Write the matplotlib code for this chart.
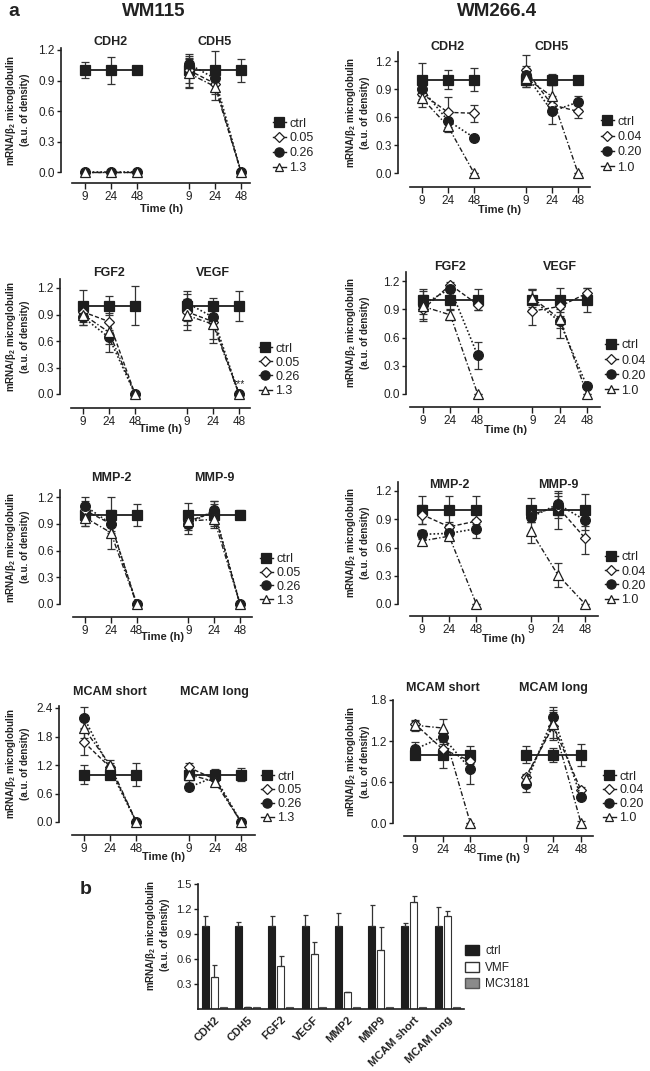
import numpy as np
import matplotlib
matplotlib.use("Agg")
import matplotlib.pyplot as plt
from matplotlib.lines import Line2D
from matplotlib.patches import Patch

plt.rcParams['font.family'] = ['Liberation Sans', 'DejaVu Sans']
plt.rcParams['mathtext.fontset'] = 'custom'
plt.rcParams['mathtext.rm'] = 'Liberation Sans'
plt.rcParams['mathtext.bf'] = 'Liberation Sans:bold'
plt.rcParams['mathtext.default'] = 'regular'

# ---------------- data ----------------
times = ["9", "24", "48"]
series_wm115 = ["ctrl", "0.05", "0.26", "1.3"]
series_wm266 = ["ctrl", "0.04", "0.20", "1.0"]
gene_pairs = [("CDH2", "CDH5"), ("FGF2", "VEGF"), ("MMP-2", "MMP-9"), ("MCAM short", "MCAM long")]

# rows: ctrl, low, mid, high dose ; columns: 9, 24, 48 h
wm115_cdh2 = [[1.00, 1.00, 1.00], [0.00, 0.00, 0.00], [0.00, 0.00, 0.00], [0.00, 0.00, 0.00]]
wm115_cdh2_sd = [[0.08, 0.13, 0.01], [0, 0, 0], [0, 0, 0], [0, 0, 0]]
wm115_cdh5 = [[1.00, 1.00, 1.00], [1.00, 0.87, 0.00], [1.06, 0.92, 0.00], [0.97, 0.84, 0.00]]
wm115_cdh5_sd = [[0.16, 0.19, 0.11], [0.12, 0.10, 0], [0.08, 0.05, 0], [0.14, 0.13, 0]]
wm115_fgf2 = [[1.00, 1.00, 1.00], [0.93, 0.82, 0.00], [0.87, 0.64, 0.00], [0.90, 0.70, 0.00]]
wm115_fgf2_sd = [[0.18, 0.11, 0.22], [0.08, 0.10, 0], [0.09, 0.16, 0], [0.12, 0.13, 0]]
wm115_vegf = [[1.00, 1.00, 1.00], [0.93, 0.82, 0.00], [1.03, 0.87, 0.00], [0.89, 0.79, 0.00]]
wm115_vegf_sd = [[0.17, 0.09, 0.17], [0.15, 0.20, 0], [0.10, 0.10, 0], [0.17, 0.21, 0]]
wm115_mmp2 = [[1.00, 1.00, 1.00], [1.05, 0.90, 0.00], [1.10, 0.90, 0.00], [0.97, 0.80, 0.00]]
wm115_mmp2_sd = [[0.12, 0.20, 0.12], [0.10, 0.15, 0], [0.10, 0.08, 0], [0.10, 0.18, 0]]
wm115_mmp9 = [[1.00, 1.00, 1.00], [0.93, 1.03, 0.00], [0.90, 1.05, 0.00], [0.93, 0.95, 0.00]]
wm115_mmp9_sd = [[0.13, 0.12, 0.05], [0.08, 0.12, 0], [0.12, 0.10, 0], [0.10, 0.10, 0]]
wm115_mcam_s = [[1.00, 1.00, 1.00], [1.68, 1.15, 0.00], [2.20, 1.10, 0.00], [1.97, 1.20, 0.00]]
wm115_mcam_s_sd = [[0.20, 0.07, 0.25], [0.27, 0.10, 0], [0.22, 0.10, 0], [0.20, 0.10, 0]]
wm115_mcam_l = [[1.00, 1.00, 1.00], [1.15, 0.90, 0.00], [0.73, 0.95, 0.00], [1.00, 0.85, 0.00]]
wm115_mcam_l_sd = [[0.18, 0.12, 0.13], [0.10, 0.10, 0], [0.05, 0.08, 0], [0.12, 0.08, 0]]

wm266_cdh2 = [[1.00, 1.00, 1.00], [0.85, 0.65, 0.64], [0.90, 0.56, 0.38], [0.80, 0.50, 0.00]]
wm266_cdh2_sd = [[0.18, 0.10, 0.12], [0.06, 0.16, 0.09], [0.05, 0.10, 0.02], [0.09, 0.06, 0]]
wm266_cdh5 = [[1.00, 1.00, 1.00], [1.10, 0.73, 0.66], [1.05, 0.66, 0.76], [1.02, 0.82, 0.00]]
wm266_cdh5_sd = [[0.08, 0.06, 0.01], [0.16, 0.10, 0.07], [0.10, 0.13, 0.07], [0.10, 0.12, 0]]
wm266_fgf2 = [[1.00, 1.00, 1.00], [0.90, 1.16, 0.95], [0.95, 1.12, 0.41], [0.93, 0.84, 0.00]]
wm266_fgf2_sd = [[0.12, 0.10, 0.11], [0.10, 0.03, 0.06], [0.10, 0.04, 0.14], [0.16, 0.05, 0]]
wm266_vegf = [[1.00, 1.00, 1.00], [0.88, 0.93, 1.07], [1.00, 0.77, 0.08], [1.02, 0.80, 0.00]]
wm266_vegf_sd = [[0.12, 0.13, 0.13], [0.15, 0.10, 0.06], [0.10, 0.18, 0.02], [0.10, 0.10, 0]]
wm266_mmp2 = [[1.00, 1.00, 1.00], [0.95, 0.82, 0.88], [0.74, 0.75, 0.80], [0.67, 0.72, 0.00]]
wm266_mmp2_sd = [[0.15, 0.15, 0.15], [0.10, 0.05, 0.10], [0.05, 0.05, 0.10], [0.03, 0.04, 0]]
wm266_mmp9 = [[1.00, 1.00, 1.00], [0.95, 1.03, 0.70], [0.92, 1.06, 0.89], [0.78, 0.31, 0.00]]
wm266_mmp9_sd = [[0.13, 0.20, 0.17], [0.08, 0.12, 0.17], [0.05, 0.12, 0.10], [0.13, 0.13, 0]]
wm266_mcam_s = [[1.00, 1.00, 1.00], [1.45, 1.08, 0.91], [1.08, 1.26, 0.79], [1.43, 1.39, 0.00]]
wm266_mcam_s_sd = [[0.07, 0.20, 0.12], [0.05, 0.10, 0.05], [0.10, 0.10, 0.22], [0.08, 0.13, 0]]
wm266_mcam_l = [[1.00, 1.00, 1.00], [0.67, 1.42, 0.48], [0.57, 1.55, 0.38], [0.65, 1.45, 0.00]]
wm266_mcam_l_sd = [[0.12, 0.10, 0.16], [0.05, 0.20, 0.05], [0.12, 0.15, 0.03], [0.05, 0.20, 0.03]]

# panel b
bar_genes = ["CDH2", "CDH5", "FGF2", "VEGF", "MMP2", "MMP9", "MCAM short", "MCAM long"]
bar_series = ["ctrl", "VMF", "MC3181"]
bar_ctrl = [1.00, 1.00, 1.00, 1.00, 1.00, 1.00, 1.00, 1.00]
bar_ctrl_sd = [0.12, 0.05, 0.12, 0.13, 0.15, 0.25, 0.03, 0.22]
bar_vmf = [0.39, 0.02, 0.52, 0.66, 0.21, 0.71, 1.29, 1.12]
bar_vmf_sd = [0.14, 0.00, 0.12, 0.14, 0.00, 0.27, 0.07, 0.06]
bar_mc = [0.02, 0.02, 0.02, 0.02, 0.02, 0.02, 0.02, 0.02]

wm115_data = [(wm115_cdh2, wm115_cdh2_sd, wm115_cdh5, wm115_cdh5_sd),
              (wm115_fgf2, wm115_fgf2_sd, wm115_vegf, wm115_vegf_sd),
              (wm115_mmp2, wm115_mmp2_sd, wm115_mmp9, wm115_mmp9_sd),
              (wm115_mcam_s, wm115_mcam_s_sd, wm115_mcam_l, wm115_mcam_l_sd)]
wm266_data = [(wm266_cdh2, wm266_cdh2_sd, wm266_cdh5, wm266_cdh5_sd),
              (wm266_fgf2, wm266_fgf2_sd, wm266_vegf, wm266_vegf_sd),
              (wm266_mmp2, wm266_mmp2_sd, wm266_mmp9, wm266_mmp9_sd),
              (wm266_mcam_s, wm266_mcam_s_sd, wm266_mcam_l, wm266_mcam_l_sd)]

# ---------------- style ----------------
W, H = 650, 1071
fig = plt.figure(figsize=(W / 100, H / 100), dpi=100)
fig.patch.set_facecolor("white")
INK = "#1e1e1e"
TXT = "#222222"

styles = [
    dict(marker="s", ms=7, mfc=INK, mec=INK, ls="-", lw=1.3, dashes=None),
    dict(marker="D", ms=5, mfc="white", mec=INK, ls="--", lw=1.0, dashes=(3, 1.6)),
    dict(marker="o", ms=7, mfc=INK, mec=INK, ls=":", lw=1.2, dashes=(1, 1.3)),
    dict(marker="^", ms=6.5, mfc="white", mec=INK, ls="-.", lw=1.0, dashes=(3.5, 1.5, 1, 1.5)),
]
draw_order = [3, 1, 2, 0]
ylab = "mRNA/β$_2$ microglobulin\n(a.u. of density)"


def fig_axes(left, right, top, bottom):
    return fig.add_axes([left / W, 1 - bottom / H, (right - left) / W, (bottom - top) / H])


left_geoms = [
    dict(spine=61, xs=72, xe=250, t0=85, t6=241, y0=172, ytk=50, ytkv=1.2, yax=183, ytop=1.22, step=0.3,
         title=42, xl=209, lgx=280, lgy=125, lgp=16),
    dict(spine=60, xs=71, xe=250, t0=83, t6=239, y0=394, ytk=288, ytkv=1.2, yax=408, ytop=1.3, step=0.3,
         title=273, xl=429, lgx=266, lgy=350, lgp=15.3),
    dict(spine=60, xs=73, xe=252, t0=85, t6=240, y0=604, ytk=497, ytkv=1.2, yax=617, ytop=1.28, step=0.3,
         title=478, xl=637, lgx=267, lgy=561, lgp=14.8),
    dict(spine=59, xs=72, xe=255, t0=84, t6=241, y0=822, ytk=708, ytkv=2.4, yax=835, ytop=2.45, step=0.6,
         title=692, xl=857, lgx=268, lgy=778, lgp=15),
]
right_geoms = [
    dict(spine=398, xs=410, xe=590, t0=422, t6=578, y0=173, ytk=61, ytkv=1.2, yax=187, ytop=1.3, step=0.3,
         title=47, xl=210, lgx=608, lgy=123, lgp=16.5),
    dict(spine=406, xs=410, xe=600, t0=423, t6=587, y0=394, ytk=281, ytkv=1.2, yax=407, ytop=1.3, step=0.3,
         title=267, xl=430, lgx=612, lgy=347, lgp=16.2),
    dict(spine=398, xs=410, xe=598, t0=422, t6=585, y0=604, ytk=491, ytkv=1.2, yax=616, ytop=1.3, step=0.3,
         title=485, xl=639, lgx=612, lgy=559, lgp=15.3),
    dict(spine=393, xs=404, xe=593, t0=415, t6=581, y0=823, ytk=700, ytkv=1.8, yax=836, ytop=1.8, step=0.6,
         title=688, xl=858, lgx=610, lgy=778, lgp=15),
]


def line_panel(g, genes, data, labels, ylab_x, stars=None):
    ux = (g["t6"] - g["t0"]) / 6.0
    uy = (g["y0"] - g["ytk"]) / g["ytkv"]
    top_px = g["y0"] - g["ytop"] * uy
    ax = fig_axes(g["spine"], g["xe"], top_px, g["yax"])
    ax.set_facecolor("none")
    x_lo = (g["spine"] - g["t0"]) / ux
    x_hi = (g["xe"] - g["t0"]) / ux
    ax.set_xlim(x_lo, x_hi)
    ax.set_ylim(-(g["yax"] - g["y0"]) / uy, g["ytop"])
    means_a, sd_a, means_b, sd_b = data
    for offset, means, sds in ((0, means_a, sd_a), (4, means_b, sd_b)):
        xs = np.arange(3) + offset
        for k in draw_order:
            st = styles[k]
            ax.errorbar(xs, means[k], yerr=sds[k], fmt="none", ecolor="#333333",
                        elinewidth=0.9, capsize=3.2, capthick=0.9, zorder=2 + k * 0.1, clip_on=False)
            ln, = ax.plot(xs, means[k], marker=st["marker"], ms=st["ms"], mfc=st["mfc"], mec=st["mec"],
                          mew=0.9, color=INK, ls=st["ls"], lw=st["lw"], zorder=3 + k * 0.1, clip_on=False)
            if st["dashes"]:
                ln.set_dashes(st["dashes"])
    for spn in ("top", "right"):
        ax.spines[spn].set_visible(False)
    for spn in ("left", "bottom"):
        ax.spines[spn].set_linewidth(1.2)
        ax.spines[spn].set_color(INK)
    ax.spines["left"].set_bounds(0, g["ytop"])
    ax.spines["bottom"].set_bounds((g["xs"] - g["t0"]) / ux, x_hi)
    ax.set_xticks([0, 1, 2, 4, 5, 6])
    ax.set_xticklabels(times + times)
    yt = np.round(np.arange(0, g["ytkv"] + 1e-6, g["step"]), 2)
    ax.set_yticks(yt)
    ax.set_yticklabels([f"{v:.1f}" for v in yt])
    ax.tick_params(axis="both", labelsize=8.5, colors=INK, labelcolor=TXT, width=1.0)
    ax.tick_params(axis="x", length=4, pad=1.5)
    ax.tick_params(axis="y", length=3, pad=1.5)
    # gene titles
    ty = (g["y0"] - g["title"]) / uy
    for xc, name in ((1, genes[0]), (5, genes[1])):
        ax.text(xc, ty, name, ha="center", va="center", fontsize=9, fontweight="bold", color=TXT, clip_on=False)
    # x label
    fig.text((g["xs"] + g["xe"]) / 2 / W, 1 - g["xl"] / H, "Time (h)", ha="center", va="center",
             fontsize=8, fontweight="bold", color=TXT)
    # y label
    fig.text(ylab_x / W, 1 - ((g["y0"] + top_px) / 2) / H, ylab, rotation=90, ha="center", va="center",
             fontsize=7, fontweight="bold", color=TXT, linespacing=1.25, multialignment="center")
    if stars:
        for xg, yv, s in stars:
            ax.text(xg, yv, s, ha="center", va="bottom", fontsize=7.5, color=TXT, clip_on=False, zorder=10)
    # legend
    handles = []
    for k in range(4):
        st = styles[k]
        h = Line2D([], [], marker=st["marker"], ms=st["ms"] * 0.95, mfc=st["mfc"], mec=st["mec"], mew=0.9,
                   color=INK, ls="-", lw=1.0)
        handles.append(h)
    fs = 9
    fs_px = fs * 100 / 72
    leg = ax.legend(handles, labels, loc="upper left", frameon=False, fontsize=fs,
                    bbox_to_anchor=((g["lgx"] - 7) / W, 1 - (g["lgy"] - 7.5) / H), bbox_transform=fig.transFigure,
                    borderpad=0, borderaxespad=0, handlelength=1.0, handletextpad=0.3,
                    labelspacing=max(0.05, g["lgp"] / fs_px - 1.05))
    for t in leg.get_texts():
        t.set_color(TXT)
    return ax


for i in range(4):
    stars = [(6, 0.055, "***")] if gene_pairs[i][1] == "VEGF" else None
    line_panel(left_geoms[i], gene_pairs[i], wm115_data[i], series_wm115, 17, stars=stars)
    line_panel(right_geoms[i], gene_pairs[i], wm266_data[i], series_wm266, 357)

# headers
fig.text(8 / W, 1 - 12 / H, "a", fontsize=14, fontweight="bold", ha="left", va="center", color=TXT)
fig.text(154 / W, 1 - 11 / H, "WM115", fontsize=13.5, fontweight="bold", ha="center", va="center", color=TXT)
fig.text(497 / W, 1 - 12 / H, "WM266.4", fontsize=13.5, fontweight="bold", ha="center", va="center", color=TXT)
fig.text(86 / W, 1 - 890 / H, "b", fontsize=14, fontweight="bold", ha="center", va="center", color=TXT)

# ---------------- panel b ----------------
axb = fig_axes(198, 464, 884, 1009)
axb.set_facecolor("none")
xb = np.arange(len(bar_genes))
bw = 0.21
off = 0.27
zeros = np.zeros(len(bar_genes))
ekw = dict(ecolor="#333333", elinewidth=0.9, capsize=1.8, capthick=0.9)
axb.bar(xb - off, bar_ctrl, bw, color=INK, edgecolor=INK, lw=0.8,
        yerr=[zeros, bar_ctrl_sd], error_kw=ekw, label=bar_series[0])
axb.bar(xb, bar_vmf, bw, color="white", edgecolor="#333333", lw=0.8,
        yerr=[zeros, bar_vmf_sd], error_kw=ekw, label=bar_series[1])
axb.bar(xb + off, bar_mc, bw, color="#8a8a8a", edgecolor="#555555", lw=0.8, label=bar_series[2])
axb.set_xlim(-0.48, 7.5)
axb.set_ylim(0, 1.5)
for spn in ("top", "right"):
    axb.spines[spn].set_visible(False)
for spn in ("left", "bottom"):
    axb.spines[spn].set_linewidth(1.2)
    axb.spines[spn].set_color(INK)
axb.set_yticks([0.3, 0.6, 0.9, 1.2, 1.5])
axb.set_yticklabels(["0.3", "0.6", "0.9", "1.2", "1.5"])
axb.set_xticks(xb)
axb.set_xticklabels(bar_genes, rotation=45, ha="right", rotation_mode="anchor", fontweight="bold")
axb.tick_params(axis="x", length=0, pad=4, labelsize=8, labelcolor=TXT)
axb.tick_params(axis="y", length=3, pad=1.5, labelsize=8, labelcolor=TXT, colors=INK, width=1.0)
fig.text(157 / W, 1 - 935 / H, ylab, rotation=90, ha="center", va="center",
         fontsize=7, fontweight="bold", color=TXT, linespacing=1.25, multialignment="center")
bh = [Patch(facecolor=INK, edgecolor=INK), Patch(facecolor="white", edgecolor="#333333"),
      Patch(facecolor="#8a8a8a", edgecolor="#555555")]
lb = axb.legend(bh, bar_series, loc="upper left", frameon=False, fontsize=8.5,
                bbox_to_anchor=(465 / W, 1 - 945 / H), bbox_transform=fig.transFigure,
                borderpad=0, borderaxespad=0, handlelength=1.2, handleheight=0.9,
                handletextpad=0.5, labelspacing=0.4)
for t in lb.get_texts():
    t.set_color(TXT)

fig.savefig("out.png", dpi=100, facecolor="white")
